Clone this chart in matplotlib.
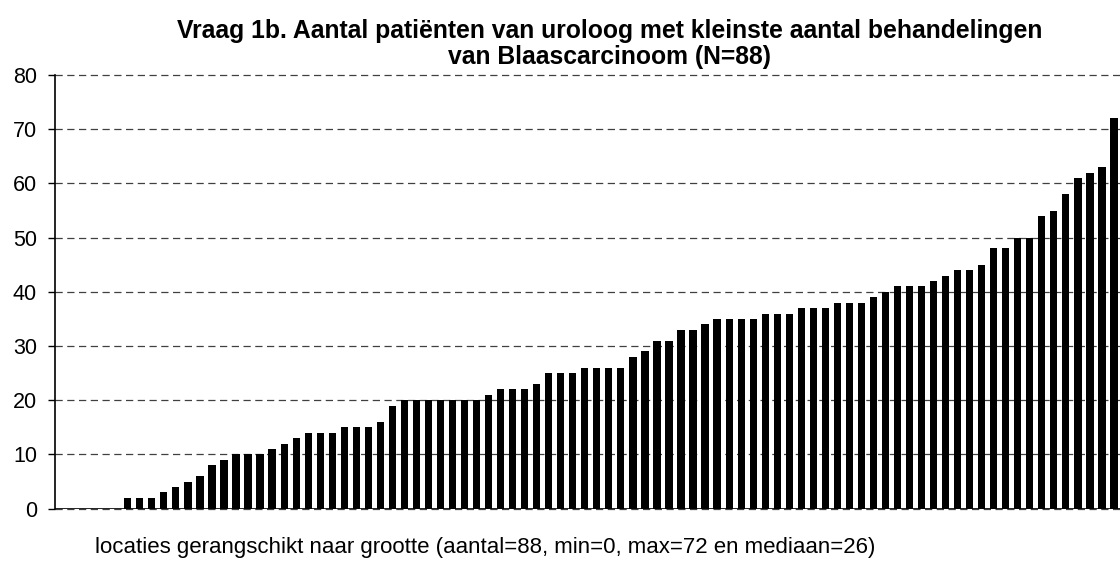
import numpy as np
import matplotlib
matplotlib.use("Agg")
import matplotlib.pyplot as plt

plt.rcParams['font.family'] = ['Liberation Sans', 'DejaVu Sans']

# aantal patienten per uroloog, gesorteerd (N=88)
values = [0, 0, 0, 0, 0,
          2, 2, 2, 3, 4, 5, 6, 8, 9, 10, 10, 10, 11, 12, 13, 14, 14, 14,
          15, 15, 15, 16, 19, 20, 20,
          20, 20, 20, 20, 20, 21, 22, 22, 22, 23, 25, 25, 25, 26, 26, 26,
          26, 28, 29, 31, 31, 33, 33, 34, 35, 35, 35, 35,
          36, 36, 36, 37, 37, 37, 38, 38, 38, 39, 40, 41, 41, 41, 42, 43,
          44, 44, 45, 48, 48, 50, 50, 54, 55, 58, 61, 62, 63, 72]
yticks = list(range(0, 81, 10))

title = ("Vraag 1b. Aantal patiënten van uroloog met kleinste aantal behandelingen\n"
         "van Blaascarcinoom (N=88)")
xlabel = "locaties gerangschikt naar grootte (aantal=88, min=0, max=72 en mediaan=26)"

W, H = 1120, 562
fig = plt.figure(figsize=(W / 100, H / 100), dpi=100)
left, right, top, bottom = 55, 1120, 75, 508.7
ax = fig.add_axes([left / W, 1 - bottom / H, (right - left) / W, (bottom - top) / H])

x = np.arange(len(values))
ax.bar(x, values, width=0.6, color='black', zorder=3)

ax.set_xlim(-1.05, 87.5)
ax.set_ylim(0, 80)
ax.set_yticks(yticks)
ax.set_xticks([])
ax.tick_params(axis='y', length=5, width=1, pad=8, labelsize=15.5, colors='black')

ax.yaxis.grid(True, linestyle=(0, (5.8, 3.6)), color='#404040', linewidth=0.9, zorder=1)
for g in ax.get_ygridlines():
    g.set_clip_on(False)
ax.axhline(0, color='black', linewidth=1.2, zorder=4)

for s in ['top', 'right', 'bottom']:
    ax.spines[s].set_visible(False)
ax.spines['left'].set_linewidth(1.2)
ax.spines['left'].set_zorder(4)

fig.text(610 / W, 1 - 44 / H, title, ha='center', va='center', fontsize=17.8,
         fontweight='bold', linespacing=1.1)
fig.text(95 / W, 1 - 548 / H, xlabel, ha='left', va='center', fontsize=16)

fig.savefig('out.png', dpi=100)
